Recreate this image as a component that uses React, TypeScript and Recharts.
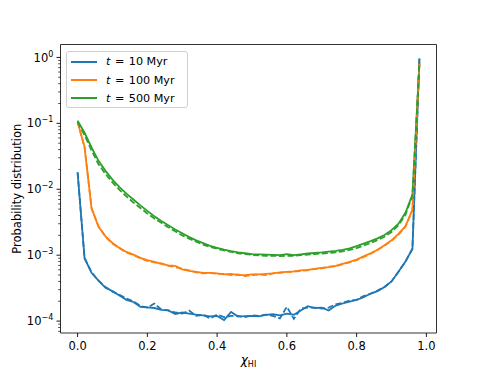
import React from 'react';
import { LineChart, Line, XAxis, YAxis, ReferenceArea } from 'recharts';

const xValues = [
  0.0, 0.02, 0.04, 0.06, 0.08, 0.1, 0.12, 0.14, 0.16, 0.18,
  0.2, 0.22, 0.24, 0.26, 0.28, 0.3, 0.32, 0.34, 0.36, 0.38,
  0.4, 0.42, 0.44, 0.46, 0.48, 0.5, 0.52, 0.54, 0.56, 0.58,
  0.6, 0.62, 0.64, 0.66, 0.68, 0.7, 0.72, 0.74, 0.76, 0.78,
  0.8, 0.82, 0.84, 0.86, 0.88, 0.9, 0.92, 0.94, 0.96, 0.98,
];

const blueSolid = [
  1.8e-2, 9.0e-4, 5.4e-4, 4.1e-4, 3.2e-4, 2.85e-4, 2.45e-4, 2.1e-4, 1.95e-4, 1.65e-4,
  1.62e-4, 1.58e-4, 1.48e-4, 1.45e-4, 1.28e-4, 1.35e-4, 1.3e-4, 1.25e-4, 1.22e-4, 1.18e-4,
  1.2e-4, 1.04e-4, 1.38e-4, 1.17e-4, 1.19e-4, 1.2e-4, 1.18e-4, 1.24e-4, 1.27e-4, 1.22e-4,
  1.3e-4, 1.25e-4, 1.45e-4, 1.68e-4, 1.58e-4, 1.6e-4, 1.45e-4, 1.72e-4, 1.85e-4, 1.98e-4,
  2.1e-4, 2.3e-4, 2.62e-4, 2.85e-4, 3.3e-4, 4.0e-4, 5.6e-4, 8.0e-4, 1.25e-3, 0.97,
];
const blueDashed = [
  1.8e-2, 9.0e-4, 5.5e-4, 4.1e-4, 3.3e-4, 2.8e-4, 2.5e-4, 2.2e-4, 2.0e-4, 1.7e-4,
  1.6e-4, 1.85e-4, 1.5e-4, 1.45e-4, 1.35e-4, 1.3e-4, 1.45e-4, 1.2e-4, 1.25e-4, 1.1e-4,
  1.25e-4, 1.15e-4, 1.2e-4, 1.2e-4, 1.15e-4, 1.22e-4, 1.2e-4, 1.25e-4, 1.2e-4, 1.1e-4,
  1.65e-4, 1.08e-4, 1.55e-4, 1.6e-4, 1.6e-4, 1.55e-4, 1.6e-4, 1.8e-4, 1.9e-4, 2.05e-4,
  2.1e-4, 2.4e-4, 2.6e-4, 2.9e-4, 3.3e-4, 4.0e-4, 5.6e-4, 8.0e-4, 1.25e-3, 0.95,
];
const orangeSolid = [
  0.105, 0.044, 5.2e-3, 2.7e-3, 1.93e-3, 1.53e-3, 1.29e-3, 1.12e-3, 1.02e-3, 9.1e-4,
  8.4e-4, 7.9e-4, 7.4e-4, 7.0e-4, 6.9e-4, 6.1e-4, 5.8e-4, 5.6e-4, 5.4e-4, 5.4e-4,
  5.3e-4, 5.1e-4, 5.2e-4, 5.0e-4, 5.0e-4, 5.1e-4, 5.1e-4, 5.2e-4, 5.3e-4, 5.5e-4,
  5.6e-4, 5.7e-4, 5.9e-4, 6.0e-4, 6.2e-4, 6.4e-4, 6.6e-4, 6.9e-4, 7.4e-4, 7.9e-4,
  8.6e-4, 9.6e-4, 1.07e-3, 1.21e-3, 1.42e-3, 1.68e-3, 2.1e-3, 2.75e-3, 4.9e-3, 0.85,
];
const orangeDashed = [
  0.105, 0.043, 5.1e-3, 2.75e-3, 1.9e-3, 1.5e-3, 1.27e-3, 1.1e-3, 1.0e-3, 9.0e-4,
  8.2e-4, 7.8e-4, 7.5e-4, 6.9e-4, 6.6e-4, 6.2e-4, 5.9e-4, 5.5e-4, 5.3e-4, 5.4e-4,
  5.2e-4, 5.2e-4, 5.0e-4, 5.1e-4, 4.8e-4, 5.0e-4, 5.1e-4, 5.0e-4, 5.3e-4, 5.4e-4,
  5.6e-4, 5.6e-4, 5.8e-4, 5.9e-4, 6.2e-4, 6.3e-4, 6.7e-4, 6.8e-4, 7.3e-4, 7.8e-4,
  8.4e-4, 9.4e-4, 1.05e-3, 1.2e-3, 1.4e-3, 1.65e-3, 2.05e-3, 2.7e-3, 4.8e-3, 0.8,
];
const greenSolid = [
  0.11, 0.072, 0.043, 0.027, 0.019, 0.014, 0.0108, 8.6e-3, 7.0e-3, 5.7e-3,
  4.7e-3, 3.9e-3, 3.3e-3, 2.85e-3, 2.45e-3, 2.15e-3, 1.88e-3, 1.68e-3, 1.52e-3, 1.38e-3,
  1.29e-3, 1.21e-3, 1.15e-3, 1.1e-3, 1.07e-3, 1.04e-3, 1.03e-3, 1.02e-3, 1.01e-3, 1.0e-3,
  1.04e-3, 1.0e-3, 1.03e-3, 1.06e-3, 1.08e-3, 1.1e-3, 1.13e-3, 1.16e-3, 1.2e-3, 1.27e-3,
  1.37e-3, 1.5e-3, 1.63e-3, 1.8e-3, 2.02e-3, 2.4e-3, 3.0e-3, 4.4e-3, 8.3e-3, 0.8,
];
const greenDashed = [
  0.105, 0.066, 0.039, 0.024, 0.017, 0.0127, 0.0098, 7.8e-3, 6.3e-3, 5.2e-3,
  4.3e-3, 3.6e-3, 3.1e-3, 2.65e-3, 2.3e-3, 2.0e-3, 1.78e-3, 1.6e-3, 1.45e-3, 1.33e-3,
  1.25e-3, 1.18e-3, 1.12e-3, 1.07e-3, 1.04e-3, 1.01e-3, 0.99e-3, 0.98e-3, 0.98e-3, 0.97e-3,
  0.98e-3, 0.98e-3, 1.0e-3, 1.02e-3, 1.04e-3, 1.06e-3, 1.08e-3, 1.1e-3, 1.14e-3, 1.2e-3,
  1.28e-3, 1.4e-3, 1.53e-3, 1.7e-3, 1.9e-3, 2.25e-3, 2.85e-3, 4.1e-3, 8.0e-3, 0.78,
];

const legendLabels = ['10 Myr', '100 Myr', '500 Myr'];
const colors = ['#1f77b4', '#ff7f0e', '#2ca02c'];

const xTicks = [0.0, 0.2, 0.4, 0.6, 0.8, 1.0];
const xTickLabels = ['0.0', '0.2', '0.4', '0.6', '0.8', '1.0'];
const yMajorTicks = [1e-4, 1e-3, 1e-2, 1e-1, 1];
const yMajorExponents = ['\u22124', '\u22123', '\u22122', '\u22121', '0'];
const yMinorTicks = [
  7e-5, 8e-5, 9e-5,
  2e-4, 3e-4, 4e-4, 5e-4, 6e-4, 7e-4, 8e-4, 9e-4,
  2e-3, 3e-3, 4e-3, 5e-3, 6e-3, 7e-3, 8e-3, 9e-3,
  2e-2, 3e-2, 4e-2, 5e-2, 6e-2, 7e-2, 8e-2, 9e-2,
  0.2, 0.3, 0.4, 0.5, 0.6, 0.7, 0.8, 0.9,
];

const X_DOMAIN: [number, number] = [-0.049, 1.029];
const Y_DOMAIN: [number, number] = [6.6e-5, 1.57];

const rows = xValues.map((x, i) => ({
  x,
  bs: blueSolid[i],
  bd: blueDashed[i],
  os: orangeSolid[i],
  od: orangeDashed[i],
  gs: greenSolid[i],
  gd: greenDashed[i],
}));

const FONT = 'DejaVu Sans, sans-serif';
const FS = 11.5;

const XTick = (props: any) => {
  const { x, y, payload } = props;
  const idx = xTicks.findIndex((t) => Math.abs(t - payload.value) < 1e-9);
  return (
    <g>
      <line x1={x} x2={x} y1={y} y2={y + 4} stroke="#000" strokeWidth={0.9} />
      <text x={x} y={y + 16.5} textAnchor="middle" fontSize={FS} fontFamily={FONT} fill="#000">
        {idx >= 0 ? xTickLabels[idx] : ''}
      </text>
    </g>
  );
};

const YTick = (props: any) => {
  const { x, y, payload } = props;
  const idx = yMajorTicks.findIndex((t) => Math.abs(t - payload.value) / t < 1e-9);
  if (idx < 0) {
    return <line x1={x - 2.3} x2={x} y1={y} y2={y} stroke="#000" strokeWidth={0.7} />;
  }
  return (
    <g>
      <line x1={x - 4} x2={x} y1={y} y2={y} stroke="#000" strokeWidth={0.9} />
      <text x={x - 7.2} y={y + 4.1} textAnchor="end" fontSize={FS} fontFamily={FONT} fill="#000">
        <tspan>10</tspan>
        <tspan dy={-5} fontSize={8}>{yMajorExponents[idx]}</tspan>
      </text>
    </g>
  );
};

const Legend = () => (
  <div
    style={{
      position: 'absolute',
      left: 66,
      top: 51,
      width: 120,
      height: 55,
      border: '1px solid #d0d0d0',
      borderRadius: 3,
      background: 'rgba(255,255,255,0.8)',
      fontFamily: FONT,
      fontSize: 11.2,
      color: '#000',
    }}
  >
    {legendLabels.map((lab, i) => (
      <div
        key={lab}
        style={{
          position: 'absolute',
          left: 4,
          top: 1.7 + i * 18.3,
          height: 16,
          display: 'flex',
          alignItems: 'center',
          whiteSpace: 'nowrap',
        }}
      >
        <div style={{ width: 26, height: 2, background: colors[i], marginRight: 9 }} />
        <span style={{ fontStyle: 'italic', marginRight: 4.5 }}>t</span>
        <span style={{ marginRight: 4.5 }}>=</span>
        <span>{lab}</span>
      </div>
    ))}
  </div>
);

export default function App() {
  return (
    <div style={{ position: 'absolute', left: 0, top: 0, width: 485, height: 375, background: '#fff' }}>
      <LineChart
        width={485}
        height={375}
        data={rows}
        margin={{ top: 44.5, right: 48.5, left: 0, bottom: 0 }}
      >
        <XAxis
          dataKey="x"
          type="number"
          domain={X_DOMAIN}
          allowDataOverflow
          ticks={xTicks}
          tick={<XTick />}
          tickSize={0}
          tickMargin={0}
          tickLine={false}
          axisLine={false}
          height={42}
          interval={0}
          label={{
            content: () => (
              <text x={248.5} y={364} textAnchor="middle" fontFamily={FONT} fill="#000">
                <tspan fontSize={12} fontStyle="italic">χ</tspan>
                <tspan fontSize={8} dy={2.5}>HI</tspan>
              </text>
            ),
          }}
        />
        <YAxis
          type="number"
          scale="log"
          domain={Y_DOMAIN}
          allowDataOverflow
          ticks={[...yMinorTicks, ...yMajorTicks]}
          tick={<YTick />}
          tickSize={0}
          tickMargin={0}
          tickLine={false}
          axisLine={false}
          width={60.5}
          interval={0}
          label={{
            content: () => (
              <text
                x={17}
                y={188.7}
                transform="rotate(-90 17 188.7)"
                textAnchor="middle"
                dominantBaseline="central"
                fontSize={FS}
                fontFamily={FONT}
                fill="#000"
              >
                Probability distribution
              </text>
            ),
          }}
        />
        <Line dataKey="bs" stroke={colors[0]} strokeWidth={1.8} dot={false} isAnimationActive={false} />
        <Line dataKey="os" stroke={colors[1]} strokeWidth={1.8} dot={false} isAnimationActive={false} />
        <Line dataKey="gs" stroke={colors[2]} strokeWidth={1.8} dot={false} isAnimationActive={false} />
        <Line dataKey="bd" stroke={colors[0]} strokeWidth={1.8} strokeDasharray="6 2.6" dot={false} isAnimationActive={false} />
        <Line dataKey="od" stroke={colors[1]} strokeWidth={1.8} strokeDasharray="6 2.6" dot={false} isAnimationActive={false} />
        <Line dataKey="gd" stroke={colors[2]} strokeWidth={1.8} strokeDasharray="6 2.6" dot={false} isAnimationActive={false} />
        <ReferenceArea
          x1={X_DOMAIN[0]}
          x2={X_DOMAIN[1]}
          y1={Y_DOMAIN[0]}
          y2={Y_DOMAIN[1]}
          fill="none"
          fillOpacity={0}
          stroke="#000"
          strokeWidth={0.8}
          ifOverflow="extendDomain"
        />
      </LineChart>
      <Legend />
    </div>
  );
}
